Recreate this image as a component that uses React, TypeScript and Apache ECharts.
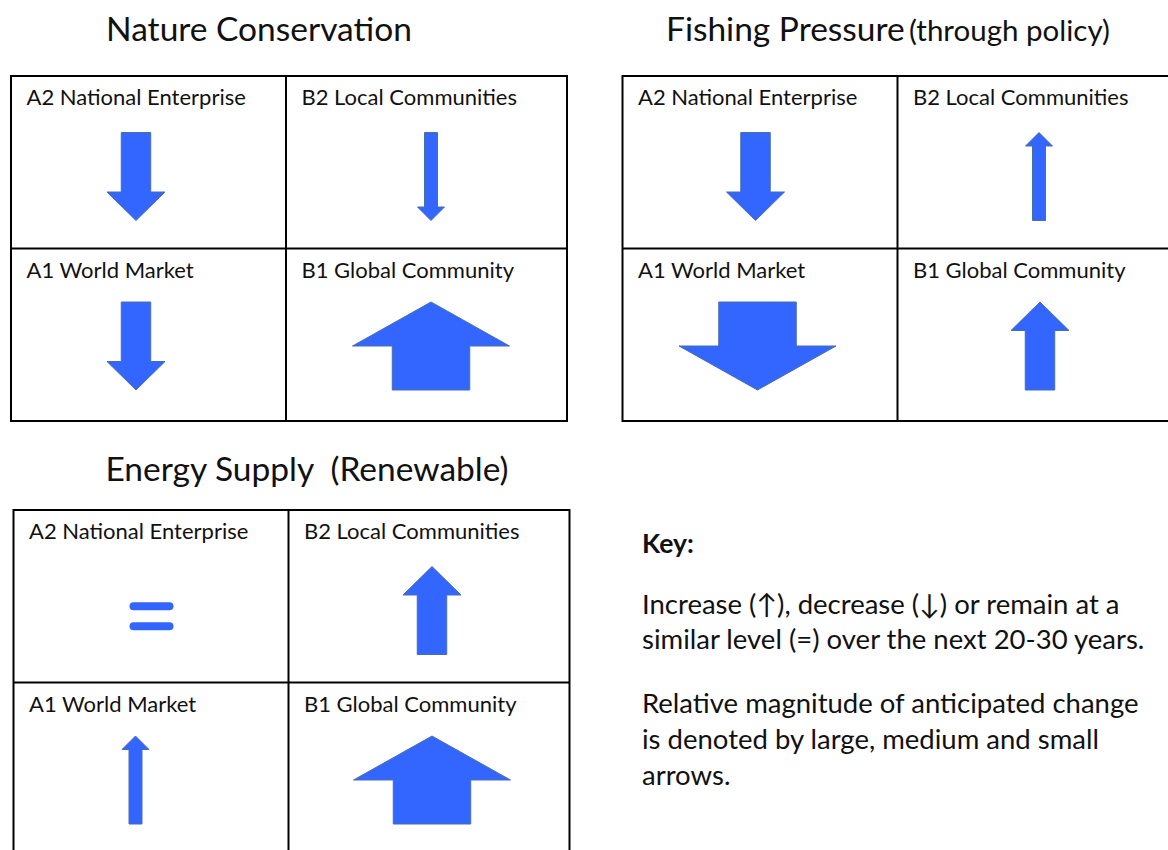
import React, { useEffect, useRef } from "react";
import * as echarts from "echarts";

// ---- content ----
const panelTitles = ["Nature Conservation", "Fishing Pressure", "Energy Supply  (Renewable)"];
const panelSubtitles = ["", "(through policy)", ""];
const cellLabels = ["A2 National Enterprise", "B2 Local Communities", "A1 World Market", "B1 Global Community"];
// direction: 1 increase, -1 decrease, 0 similar level ; magnitude: 1 small, 2 medium, 3 large
const natureDirection = [-1, -1, -1, 1];
const natureMagnitude = [2, 1, 2, 3];
const fishingDirection = [-1, 1, -1, 1];
const fishingMagnitude = [2, 1, 3, 2];
const energyDirection = [0, 1, 1, 1];
const energyMagnitude = [0, 2, 1, 3];
const keyTitle = "Key:";
const keyLines = [
  "Increase (\u2191), decrease (\u2193) or remain at a",
  "similar level (=) over the next 20-30 years.",
  "Relative magnitude of anticipated change",
  "is denoted by large, medium and small",
  "arrows.",
];

// ---- layout (positions / sizes / styles) ----
const FONT = "Lato, 'Open Sans', sans-serif";
const panelLeft = [11, 622.5, 13.5];
const panelTop = [76, 76, 510];
const colAWidth = 275;
const colBWidth = 281;
const rowHeight = 172.5;
const titleCenterX = [259, 784, 307];
const titleBaseline = [40, 40, 480];
const titleSize = 33.5;
const subtitleSize = 29.5;
const titleLeftFishing = 666;
const subtitleX = 909;
const labelSize = 22;
const keyTitleSize = 26.5;
const keySize = 27.5;
const arrowOffsetX = [
  [125, 145, 125, 145],
  [133, 141.5, 135, 142.5],
  [138, 143.5, 122, 143.5],
];
const arrowTopOffset = [56.5, 53.5];
const arrowShapes = [
  { headW: 27, shaftW: 13, headLen: 13.5, len: 88 },
  { headW: 58, shaftW: 29.5, headLen: 28.5, len: 88 },
  { headW: 157, shaftW: 77.5, headLen: 44, len: 88 },
];
const keyX = 642;
const keyTitleBaseline = 553;
const keyBaselines = [613, 648.5, 712, 748, 784.5];
const ARROW_FILL = "#3366ff";
const ARROW_STROKE = "#4a6fa8";
const TEXT = "#111111";

const directions = [natureDirection, fishingDirection, energyDirection];
const magnitudes = [natureMagnitude, fishingMagnitude, energyMagnitude];

// y for zrender 'middle' text so the alphabetic baseline lands at `baseline`
const midY = (baseline: number, fs: number) => baseline - 0.36 * fs;

export default function App() {
  const ref = useRef<HTMLDivElement>(null);
  useEffect(() => {
    document.body.style.margin = "0";
    const chart = echarts.init(ref.current!, undefined, { renderer: "svg" });

    const graphics: any[] = [];
    for (let p = 0; p < 3; p++) {
      const L = panelLeft[p];
      const T = panelTop[p];
      const W = colAWidth + colBWidth;
      const H = rowHeight * 2;
      graphics.push({
        type: "rect",
        shape: { x: L, y: T, width: W, height: H },
        style: { fill: "none", stroke: "#000", lineWidth: 2 },
      });
      graphics.push({
        type: "line",
        shape: { x1: L + colAWidth, y1: T, x2: L + colAWidth, y2: T + H },
        style: { stroke: "#000", lineWidth: 2 },
      });
      graphics.push({
        type: "line",
        shape: { x1: L, y1: T + rowHeight, x2: L + W, y2: T + rowHeight },
        style: { stroke: "#000", lineWidth: 2 },
      });
      // title
      if (panelSubtitles[p]) {
        graphics.push({
          type: "text",
          style: {
            text: panelTitles[p],
            x: titleLeftFishing,
            y: midY(titleBaseline[p], titleSize),
            font: `${titleSize}px ${FONT}`,
            fill: TEXT,
            textAlign: "left",
            textVerticalAlign: "middle",
          },
        });
        graphics.push({
          type: "text",
          style: {
            text: panelSubtitles[p],
            x: subtitleX,
            y: midY(titleBaseline[p], subtitleSize),
            font: `${subtitleSize}px ${FONT}`,
            fill: TEXT,
            textAlign: "left",
            textVerticalAlign: "middle",
          },
        });
      } else {
        graphics.push({
          type: "text",
          style: {
            text: panelTitles[p],
            x: titleCenterX[p],
            y: midY(titleBaseline[p], titleSize),
            font: `${titleSize}px ${FONT}`,
            fill: TEXT,
            textAlign: "center",
            textVerticalAlign: "middle",
          },
        });
      }
      // cell labels
      for (let c = 0; c < 4; c++) {
        const col = c % 2;
        const row = Math.floor(c / 2);
        const cl = L + (col ? colAWidth : 0);
        const ct = T + row * rowHeight;
        graphics.push({
          type: "text",
          style: {
            text: cellLabels[c],
            x: cl + 15.5,
            y: midY(ct + 28.5, labelSize),
            font: `${labelSize}px ${FONT}`,
            fill: TEXT,
            textAlign: "left",
            textVerticalAlign: "middle",
          },
        });
      }
    }
    // key
    graphics.push({
      type: "text",
      style: {
        text: keyTitle,
        x: keyX,
        y: midY(keyTitleBaseline, keyTitleSize),
        font: `bold ${keyTitleSize}px ${FONT}`,
        fill: TEXT,
        textAlign: "left",
        textVerticalAlign: "middle",
      },
    });
    keyLines.forEach((t, i) => {
      graphics.push({
        type: "text",
        style: {
          text: t,
          x: keyX,
          y: midY(keyBaselines[i], keySize),
          font: `${keySize}px ${FONT}`,
          fill: TEXT,
          textAlign: "left",
          textVerticalAlign: "middle",
        },
      });
    });

    const arrowData: number[][] = [];
    for (let p = 0; p < 3; p++) {
      for (let c = 0; c < 4; c++) {
        arrowData.push([p, c, directions[p][c], magnitudes[p][c]]);
      }
    }

    chart.setOption({
      animation: false,
      backgroundColor: "#ffffff",
      graphic: { elements: graphics },
      series: [
        {
          type: "custom",
          coordinateSystem: "none",
          silent: true,
          data: arrowData,
          renderItem: (params: any, api: any) => {
            const p = api.value(0);
            const c = api.value(1);
            const dir = api.value(2);
            const mag = api.value(3);
            const col = c % 2;
            const row = Math.floor(c / 2);
            const cellLeft = panelLeft[p] + (col ? colAWidth : 0);
            const cellTop = panelTop[p] + row * rowHeight;
            const cx = cellLeft + arrowOffsetX[p][c];
            if (dir === 0) {
              const w = 44;
              const h = 8;
              return {
                type: "group",
                children: [
                  {
                    type: "rect",
                    shape: { x: cx - w / 2, y: cellTop + 92.3, width: w, height: h, r: 4 },
                    style: { fill: ARROW_FILL },
                  },
                  {
                    type: "rect",
                    shape: { x: cx - w / 2, y: cellTop + 112.3, width: w, height: h, r: 4 },
                    style: { fill: ARROW_FILL },
                  },
                ],
              };
            }
            const s = arrowShapes[mag - 1];
            const top = cellTop + arrowTopOffset[row];
            const bottom = top + s.len;
            const hw = s.headW / 2;
            const sw = s.shaftW / 2;
            let pts: number[][];
            if (dir > 0) {
              const sh = top + s.headLen;
              pts = [
                [cx, top],
                [cx + hw, sh],
                [cx + sw, sh],
                [cx + sw, bottom],
                [cx - sw, bottom],
                [cx - sw, sh],
                [cx - hw, sh],
              ];
            } else {
              const sh = bottom - s.headLen;
              pts = [
                [cx, bottom],
                [cx + hw, sh],
                [cx + sw, sh],
                [cx + sw, top],
                [cx - sw, top],
                [cx - sw, sh],
                [cx - hw, sh],
              ];
            }
            return {
              type: "polygon",
              shape: { points: pts },
              style: { fill: ARROW_FILL, stroke: ARROW_STROKE, lineWidth: 1 },
            };
          },
        },
      ],
    });
    return () => chart.dispose();
  }, []);
  return <div ref={ref} style={{ width: 1168, height: 850 }} />;
}
